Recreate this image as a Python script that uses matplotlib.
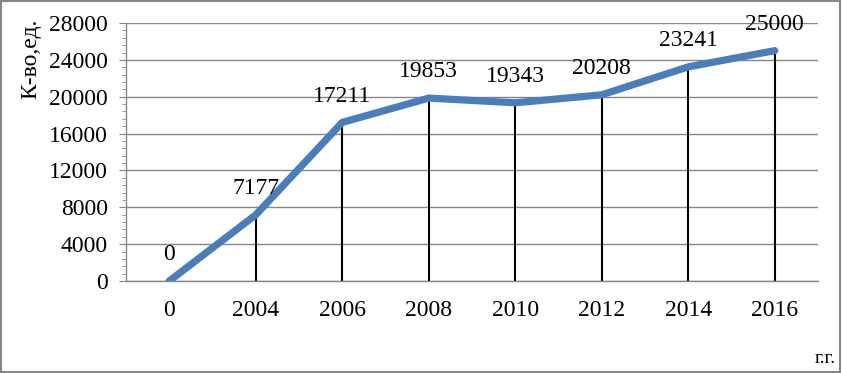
import matplotlib.pyplot as plt
from matplotlib.ticker import MultipleLocator
from matplotlib.patches import Rectangle

# Data
years = ["0", "2004", "2006", "2008", "2010", "2012", "2014", "2016"]
counts = [0, 7177, 17211, 19853, 19343, 20208, 23241, 25000]

plt.rcParams["font.family"] = ["Liberation Serif", "DejaVu Serif"]
FS = 17

fig = plt.figure(figsize=(8.42, 3.73), dpi=100)
ax = fig.add_axes([0.1496, 0.2466, 0.8219, 0.6917])

x = list(range(len(years)))

# vertical drop lines from each point to the axis
ax.vlines(x[1:], 0, counts[1:], color="black", lw=1.5, zorder=2)

ax.plot(x, counts, color="#4A7EBB", lw=5.2, solid_capstyle="round", zorder=3)

for xi, v in zip(x, counts):
    ax.annotate(str(v), (xi, v), xytext=(0, 19), textcoords="offset points",
                ha="center", va="center", fontsize=FS)

ax.set_xlim(-0.5, len(years) - 0.5)
ax.set_ylim(0, 28000)
ax.set_xticks(x)
ax.set_xticklabels(years)
ax.yaxis.set_major_locator(MultipleLocator(4000))
ax.yaxis.set_minor_locator(MultipleLocator(800))
ax.yaxis.grid(True, color="#868686", lw=1)
ax.set_axisbelow(True)

for s in ["top", "right"]:
    ax.spines[s].set_visible(False)
ax.spines["left"].set_color("#868686")
ax.spines["bottom"].set_color("#868686")
ax.spines["left"].set_linewidth(1)
ax.spines["bottom"].set_linewidth(1)

ax.tick_params(axis="x", length=0, pad=14, labelsize=FS)
ax.tick_params(axis="y", which="major", length=5, color="#868686", labelsize=FS, pad=8)
ax.tick_params(axis="y", which="minor", length=3, color="#868686")

ax.set_ylabel("К-во,ед.", fontsize=FS)
ax.yaxis.set_label_coords(-0.122, 0.86)

fig.text(0.992, 0.04, "г.г.", ha="right", va="center", fontsize=14)

# outer border of the chart area
fig.patches.append(Rectangle((0.001, 0.002), 0.997, 0.995, transform=fig.transFigure,
                             fill=False, edgecolor="#868686", lw=1.5))

fig.savefig("out.png", dpi=100)
